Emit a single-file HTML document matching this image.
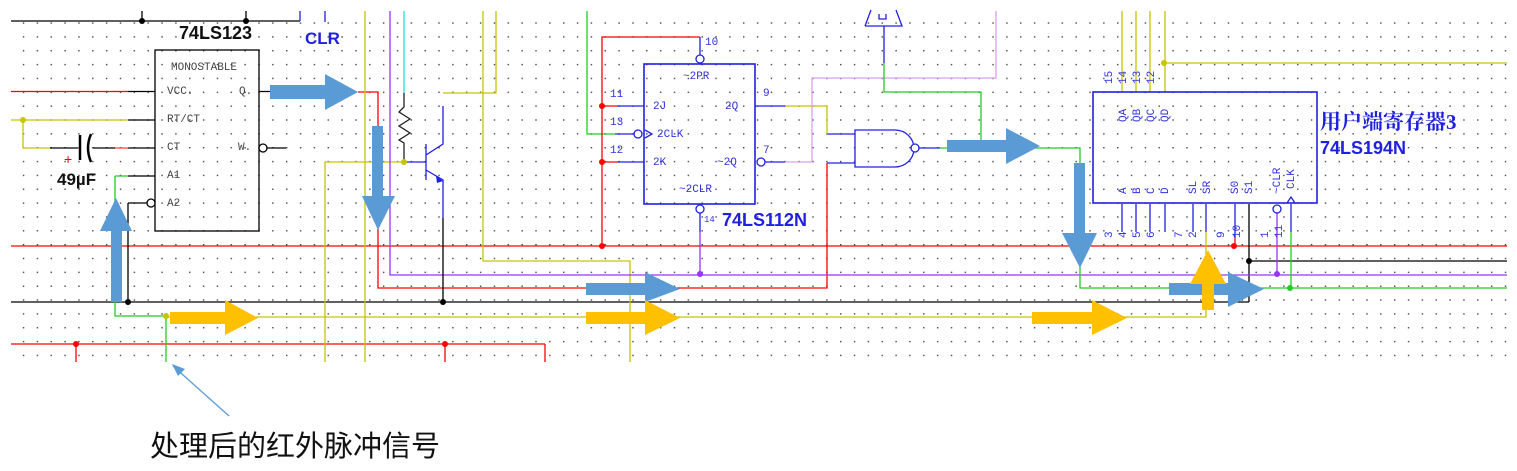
<!DOCTYPE html>
<html><head><meta charset="utf-8"><style>
html,body{margin:0;padding:0;background:#fff;}
svg{display:block;}
.m{font-family:"Liberation Mono",monospace;font-size:11px;fill:#444;}
.mb{font-family:"Liberation Mono",monospace;font-size:11px;fill:#3030e0;}
</style></head><body>
<svg width="1517" height="471" viewBox="0 0 1517 471" xmlns="http://www.w3.org/2000/svg">
<defs>
<pattern id="g" x="9" y="8.5" width="13.85" height="13.85" patternUnits="userSpaceOnUse">
<rect x="0" y="0" width="1.4" height="1.4" fill="#444"/>
</pattern>
</defs>
<rect x="11" y="11" width="1496" height="351" fill="url(#g)"/>
<g fill="none" stroke-width="1.3">
<path d="M11 21H300M142 11V21M246 11V21" stroke="#000"/>
<path d="M300 11V21M325 11V22" stroke="#2020e0"/>
<path d="M11 91.5H128M11 246H1507M11 344H545M76 344V362M445 344V362M545 344V362" stroke="#f00"/>
<path d="M128 91.5H155M128 120H155M50 148H78M93 148H115M128 148H155M128 176H155M128 203H147M128 203V302M11 302H1249M1249 204V302M1249 261H1507M259 91.5H270M267 148H286" stroke="#000"/>
<path d="M115 148H128" stroke="#f44"/>
<path d="M11 120H128M23 120V148H50" stroke="#c8c400"/>
<path d="M115 176H128M115 176V316H166V362" stroke="#2c2"/>
<path d="M166 317H1206V232" stroke="#c8c400"/>
<path d="M358 92H378V288H827V163" stroke="#f00"/>
<path d="M365 11V362M325 362V162H404M496 11V93H443M483 11V261H630V362M1122 11V92M1136 11V92M1150 11V92M1165 11V92M1164 63H1507" stroke="#c8c400"/>
<path d="M390 11V275H1507M700 232V274M1277 213V274" stroke="#9933ff"/>
<path d="M404 11V93" stroke="#2dd"/>
<path d="M404 93V107L399 112L410 119L399 126L410 133L399 140L404 143V162" stroke="#222"/>
<path d="M404 162H426M426 144V180M426 155L443 144V106M426 170L443 180V218" stroke="#2020e0"/>
<path d="M443 218V302" stroke="#000"/>
<path d="M587 11V134H615" stroke="#2c2"/>
<path d="M602 246V37H700M602 106H617M602 162H617" stroke="#f00"/>
<path d="M617 106H644M617 162H644M615 134H634M700 37V55M700 213V232M755 106H785M765 162H785M827 134H855M827 163H855M919 148H940M884 26V63" stroke="#2020e0"/>
<path d="M785 106H827V134" stroke="#c8c400"/>
<path d="M785 162H812V78H996V11" stroke="#d8a0f0"/>
<path d="M940 148H1080V288H1507M884 63V92H981V148M1291 232V288" stroke="#2c2"/>
<rect x="644" y="64" width="111" height="140" stroke="#2020e0" stroke-width="1.6"/>
<circle cx="700" cy="59" r="4" stroke="#2020e0" fill="#fff"/>
<circle cx="700" cy="209" r="4" stroke="#2020e0" fill="#fff"/>
<circle cx="638" cy="134" r="4" stroke="#2020e0" fill="#fff"/>
<circle cx="761" cy="162" r="4" stroke="#2020e0" fill="#fff"/>
<path d="M645 130L652 134L645 138" stroke="#2020e0"/>
<path d="M855 130H895A19 18.5 0 0 1 895 167H855Z" stroke="#2020e0"/>
<circle cx="915" cy="148" r="4" stroke="#2020e0" fill="#fff"/>
<path d="M865 26L871 10M896 10L902 26H865" stroke="#2020e0"/>
<path d="M879 14V19H886V14" stroke="#2020e0"/>
<rect x="155" y="50" width="104" height="181" stroke="#000" stroke-width="1.3"/>
<circle cx="263" cy="148" r="4" stroke="#000" fill="#fff"/>
<circle cx="151" cy="203" r="4" stroke="#000" fill="#fff"/>
<path d="M80 135V160M91 134Q85 148 91 162" stroke="#000" stroke-width="2.5"/>
<rect x="1093" y="92" width="224" height="111" stroke="#2020e0" stroke-width="1.6"/>
<path d="M1122 204V232M1136 204V232M1150 204V232M1165 204V232M1193 204V232M1206 204V232M1235 204V238M1291 204V232" stroke="#2020e0"/>
<path d="M1235 238V246" stroke="#f00"/>
<circle cx="1277" cy="209" r="4" stroke="#2020e0" fill="#fff"/>
<path d="M1287 203L1291 197L1295 203" stroke="#2020e0"/>
<path d="M173 366L229 416" stroke="#5b9bd5"/>
</g>
<path d="M172 364L185 369L178 376Z" fill="#5b9bd5"/>
<g fill="#000">
<circle cx="142" cy="21" r="3"/><circle cx="246" cy="21" r="3"/><circle cx="128" cy="302" r="3"/><circle cx="443" cy="302" r="3"/><circle cx="1249" cy="261" r="3"/>
</g>
<g fill="#f00"><circle cx="76" cy="344" r="3"/><circle cx="445" cy="344" r="3"/><circle cx="602" cy="106" r="3"/><circle cx="602" cy="162" r="3"/><circle cx="602" cy="246" r="3"/><circle cx="1234" cy="246" r="3"/></g>
<g fill="#c8c400"><circle cx="23" cy="120" r="3"/><circle cx="404" cy="162" r="3"/><circle cx="166" cy="316" r="3"/><circle cx="1164" cy="63" r="3"/></g>
<g fill="#9933ff"><circle cx="700" cy="274" r="3"/><circle cx="1277" cy="274" r="3"/></g>
<circle cx="1290" cy="288" r="3" fill="#2c2"/>
<path d="M436 176L443 181L437 183Z" fill="#2020e0"/>
<g fill="#5b9bd5">
<path d="M111 302V231H100L116 198L132 231H122V302Z"/>
<path d="M270 85H325V74L358 92L325 110V99H270Z"/>
<path d="M372 126H383V196H395L378 230L362 196H372Z"/>
<path d="M947 140H1006V128L1040 146L1006 164V152H947Z"/>
<path d="M586 283H645V272L680 289L645 302V295H586Z"/>
<path d="M1074 163H1085V233H1097L1080 268L1062 233H1074Z"/>
<path d="M1169 283H1228V272L1264 289L1228 307V295H1169Z"/>
</g>
<g fill="#ffc000">
<path d="M170 312H225V300L258 318L225 335V324H170Z"/>
<path d="M586 312H645V300L680 318L645 335V324H586Z"/>
<path d="M1032 312H1092V300L1127 318L1092 335V324H1032Z"/>
<path d="M1202 310V284H1190L1208 250L1226 284H1214V310Z"/>
</g>
<g font-family="Liberation Sans, sans-serif" font-weight="bold">
<text x="179" y="39" font-size="18" fill="#111">74LS123</text>
<text x="305" y="44" font-size="17" fill="#2020e0">CLR</text>
<text x="57" y="185" font-size="17" fill="#111">49µF</text>
<text x="722" y="226" font-size="18" fill="#2020e0">74LS112N</text>
<text x="1320" y="154" font-size="18" fill="#2020e0">74LS194N</text>
</g>
<text x="64" y="164" font-size="14" fill="#f00" font-family="Liberation Sans, sans-serif">+</text>
<text x="1320" y="129" font-size="21" font-weight="bold" fill="#2020e0" font-family="Liberation Serif, Noto Serif CJK SC, serif">用户端寄存器3</text>
<text x="150" y="456" font-size="29" fill="#111" font-family="Liberation Sans, Noto Sans CJK SC, sans-serif">处理后的红外脉冲信号</text>
<g class="m">
<text x="171" y="70">MONOSTABLE</text>
<text x="167" y="94">VCC.</text><text x="239" y="94">Q.</text>
<text x="167" y="122">RT/CT</text>
<text x="167" y="150">CT</text><text x="238" y="150">W.</text>
<text x="167" y="178">A1</text>
<text x="167" y="206">A2</text>
</g>
<g class="mb">
<text x="683" y="79">~2PR</text>
<text x="653" y="109">2J</text><text x="725" y="109">2Q</text>
<text x="657" y="137">2CLK</text>
<text x="653" y="165">2K</text><text x="717" y="165">~2Q</text>
<text x="679" y="192">~2CLR</text>
<text x="610" y="97">11</text><text x="610" y="125">13</text><text x="610" y="153">12</text>
<text x="705" y="45">10</text><text x="763" y="96">9</text><text x="763" y="153">7</text>
<text x="704" y="222" font-size="9">14</text>
</g>
<g class="mb" font-size="10">
<text transform="translate(1112,84) rotate(-90)">15</text>
<text transform="translate(1126,84) rotate(-90)">14</text>
<text transform="translate(1140,84) rotate(-90)">13</text>
<text transform="translate(1154,84) rotate(-90)">12</text>
<text transform="translate(1126,122) rotate(-90)">QA</text>
<text transform="translate(1140,122) rotate(-90)">QB</text>
<text transform="translate(1154,122) rotate(-90)">QC</text>
<text transform="translate(1168,122) rotate(-90)">QD</text>
<text transform="translate(1126,194) rotate(-90)">A</text>
<text transform="translate(1140,194) rotate(-90)">B</text>
<text transform="translate(1154,194) rotate(-90)">C</text>
<text transform="translate(1168,194) rotate(-90)">D</text>
<text transform="translate(1196,194) rotate(-90)">SL</text>
<text transform="translate(1210,194) rotate(-90)">SR</text>
<text transform="translate(1238,194) rotate(-90)">S0</text>
<text transform="translate(1252,194) rotate(-90)">S1</text>
<text transform="translate(1280,194) rotate(-90)">~CLR</text>
<text transform="translate(1294,189) rotate(-90)">CLK</text>
<text transform="translate(1112,238) rotate(-90)">3</text>
<text transform="translate(1126,238) rotate(-90)">4</text>
<text transform="translate(1140,238) rotate(-90)">5</text>
<text transform="translate(1154,238) rotate(-90)">6</text>
<text transform="translate(1182,238) rotate(-90)">7</text>
<text transform="translate(1196,238) rotate(-90)">2</text>
<text transform="translate(1224,238) rotate(-90)">9</text>
<text transform="translate(1240,238) rotate(-90)">10</text>
<text transform="translate(1268,238) rotate(-90)">1</text>
<text transform="translate(1282,238) rotate(-90)">11</text>
</g>
</svg>
</body></html>
